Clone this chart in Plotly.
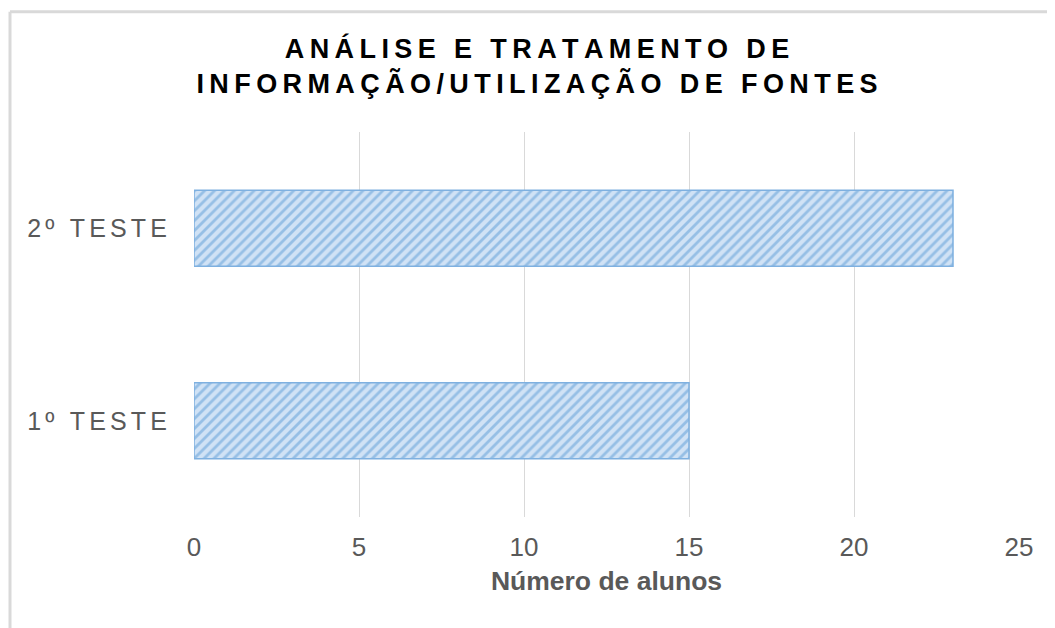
import plotly.graph_objects as go

categorias = ['1º TESTE', '2º TESTE']
alunos = [15, 23]
ticks_x = [0, 5, 10, 15, 20, 25]

titulo = ['ANÁLISE E TRATAMENTO DE', 'INFORMAÇÃO/UTILIZAÇÃO DE FONTES']
titulo_x = 'Número de alunos'


def espacar(txt, sep='\u2009'):
    # excel-style letter spacing, faked with thin spaces
    return sep.join(txt)


fig = go.Figure()
fig.add_trace(go.Bar(
    y=[espacar(c, '\u200a' * 2) for c in categorias], x=alunos, orientation='h',
    width=0.394,
    marker=dict(color='#d0e2f5',
                line=dict(color='#7eb0e0', width=1.5),
                pattern=dict(shape='/', fgcolor='#5b9bd5', bgcolor='#d0e2f5',
                             size=7, solidity=0.4)),
    showlegend=False,
))

# page body has an 8px margin, so everything is placed 8px up/left of the target
ML, MR, MT, MB = 186, 44, 123.5, 118.5
W, H = 1055, 628
pw, ph = W - ML - MR, H - MT - MB


def px(x):
    return (x - ML) / pw


def py(y):
    return (H - MB - y) / ph


# chart frame (only top and left edges visible)
fig.add_shape(type='line', xref='paper', yref='paper', x0=px(2), x1=px(1070), y0=py(3), y1=py(3),
              line=dict(color='#d9d9d9', width=3))
fig.add_shape(type='line', xref='paper', yref='paper', x0=px(2), x1=px(2), y0=py(3), y1=py(640),
              line=dict(color='#d9d9d9', width=3))

fig.update_layout(
    width=W, height=H,
    margin=dict(l=ML, r=MR, t=MT, b=MB, autoexpand=False),
    paper_bgcolor='white', plot_bgcolor='white',
    font=dict(family='Liberation Sans, Arial, sans-serif', color='#595959'),
    title=dict(text='<br>'.join(espacar(t) for t in titulo),
               x=529 / W, xanchor='center', xref='container',
               y=1 - 50 / H, yanchor='middle', yref='container',
               font=dict(size=27, color='black', weight='bold')),
    xaxis=dict(range=[0, 25], tickvals=ticks_x, showgrid=True, gridcolor='#d9d9d9', gridwidth=1,
               zeroline=False, showline=False, ticks='', tickfont=dict(size=26, color='#595959'),
               ticklabelstandoff=12, automargin=False,
               title=dict(text=titulo_x, font=dict(size=26.5, color='#595959', weight='bold'), standoff=10)),
    yaxis=dict(showgrid=False, zeroline=False, showline=False, ticks='', automargin=False,
               tickfont=dict(size=25, color='#595959'), ticklabelstandoff=26),
    bargap=0.6,
)

fig.write_html('out.html')
